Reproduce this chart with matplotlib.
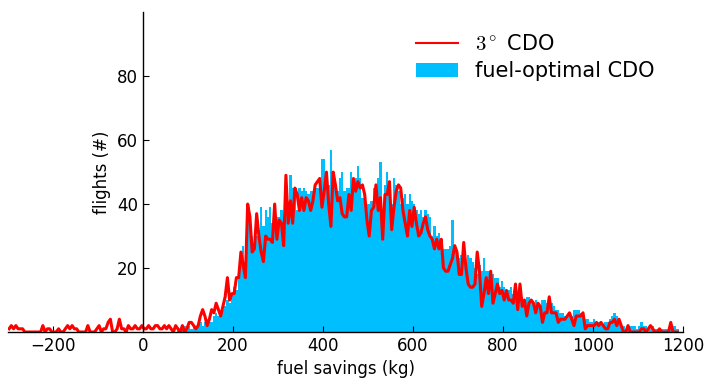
import numpy as np
import matplotlib
matplotlib.use("Agg")
import matplotlib.pyplot as plt

# histogram bins (5 kg wide), -300 ... 1190
bin_edges = np.arange(-300, 1195, 5)

# 3 deg CDO, counts per bin
cdo3 = [
    1, 2, 1, 2, 1, 1, 1, 0, 0, 0, 0, 0, 0, 0, 0, 2, 0, 1, 1, 0,            # -300
    0, 0, 1, 0, 0, 1, 2, 1, 2, 1, 1, 0, 0, 0, 0, 2, 0, 0, 0, 1,            # -200
    2, 0, 1, 1, 3, 4, 0, 0, 1, 4, 1, 1, 0, 2, 1, 1, 2, 1, 1, 2,            # -100
    1, 1, 2, 1, 1, 2, 2, 1, 1, 2, 1, 2, 1, 0, 2, 1, 0, 2, 0, 1,            # 0
    3, 3, 2, 1, 2, 5, 7, 5, 2, 4, 7, 6, 9, 7, 5, 8, 11, 17, 10, 12,        # 100
    12, 17, 17, 25, 21, 17, 40, 36, 25, 26, 37, 30, 25, 22, 30, 29, 29, 28, 40, 29,  # 200
    35, 34, 27, 49, 34, 41, 34, 45, 43, 38, 42, 38, 42, 41, 38, 41, 46, 47, 48, 39,  # 300
    44, 50, 40, 33, 50, 46, 41, 42, 37, 36, 36, 43, 38, 48, 44, 47, 45, 46, 43, 35,  # 400
    30, 38, 39, 46, 38, 42, 29, 43, 43, 47, 32, 39, 44, 46, 45, 38, 34, 30, 38, 33,  # 500
    39, 34, 30, 31, 34, 36, 32, 30, 29, 26, 29, 26, 29, 20, 19, 19, 21, 23, 27, 25,  # 600
    18, 18, 28, 20, 15, 14, 14, 15, 25, 19, 8, 12, 17, 12, 19, 9, 12, 15, 12, 13,    # 700
    10, 13, 10, 10, 9, 15, 7, 15, 8, 10, 5, 9, 10, 9, 6, 9, 8, 3, 6, 6,              # 800
    11, 6, 6, 6, 3, 4, 4, 4, 5, 6, 4, 2, 5, 5, 5, 6, 1, 2, 2, 2,                     # 900
    2, 3, 2, 3, 2, 1, 1, 3, 3, 4, 2, 4, 2, 0, 0, 2, 0, 0, 0, 0,                      # 1000
    0, 1, 1, 0, 1, 2, 1, 0, 0, 1, 0, 0, 0, 0, 3, 0, 0, 0,                            # 1100
]

# fuel-optimal CDO, counts per bin
fuel_opt = [0] * 60 + [
    0, 0, 0, 0, 0, 0, 0, 0, 0, 0, 0, 0, 0, 0, 0, 1, 1, 1, 2, 1,            # 0
    2, 1, 2, 2, 2, 3, 2, 3, 4, 3, 3, 5, 6, 5, 6, 7, 8, 10, 9, 12,          # 100
    14, 13, 17, 22, 27, 22, 35, 33, 30, 26, 30, 32, 39, 33, 38, 36, 39, 34, 36, 36,  # 200
    36, 38, 30, 41, 40, 49, 45, 44, 38, 45, 44, 45, 44, 43, 44, 44, 46, 45, 47, 54,  # 300
    54, 47, 46, 57, 44, 46, 44, 48, 50, 44, 45, 45, 50, 44, 48, 52, 48, 42, 42, 40,  # 400
    40, 41, 45, 42, 48, 53, 38, 46, 50, 44, 40, 48, 46, 44, 40, 42, 43, 40, 43, 41,  # 500
    40, 38, 37, 38, 36, 38, 37, 36, 30, 33, 30, 31, 28, 26, 26, 26, 27, 35, 27, 23,  # 600
    23, 24, 23, 22, 24, 23, 22, 20, 18, 21, 19, 23, 19, 19, 18, 18, 17, 17, 14, 16,  # 700
    14, 13, 13, 14, 12, 14, 12, 13, 11, 10, 11, 11, 10, 9, 10, 9, 8, 10, 10, 9,      # 800
    8, 9, 8, 7, 7, 6, 6, 5, 5, 6, 5, 7, 7, 7, 6, 5, 4, 4, 3, 3,                      # 900
    4, 3, 3, 3, 2, 3, 3, 4, 5, 6, 5, 3, 2, 2, 1, 1, 2, 2, 2, 1,                      # 1000
    2, 3, 2, 2, 1, 1, 2, 1, 1, 1, 1, 1, 1, 1, 1, 2, 2, 1,                            # 1100
]

x_ticks = [-200, 0, 200, 400, 600, 800, 1000, 1200]
y_ticks = [20, 40, 60, 80]

plt.rcParams['mathtext.fontset'] = 'cm'
plt.rcParams['font.family'] = 'DejaVu Sans'

fig = plt.figure(figsize=(7.05, 3.79), dpi=100)
ax = fig.add_axes([0.0113, 0.124, 0.9577, 0.844])

centers = bin_edges[:-1] + 2.5
ax.bar(bin_edges[:-1], fuel_opt, width=5, align='edge', color='#00BFFF',
       linewidth=0, label='fuel-optimal CDO')
ax.plot(centers, cdo3, color='red', linewidth=2.2, label=r'$3^\circ$ CDO')

ax.set_xlim(-300, 1200)
ax.set_ylim(0, 100)
ax.set_xticks(x_ticks)
ax.set_yticks(y_ticks)

ax.spines['left'].set_position(('data', 0))
ax.spines['top'].set_visible(False)
ax.spines['right'].set_visible(False)
for s in ('left', 'bottom'):
    ax.spines[s].set_linewidth(1.0)
    ax.spines[s].set_zorder(3)
ax.tick_params(direction='in', length=4, labelsize=12, top=False, right=False)

ax.set_xlabel('fuel savings (kg)', fontsize=12)
ax.set_ylabel('flights (#)', fontsize=12)

leg = ax.legend(loc='upper right', bbox_to_anchor=(0.985, 0.99), frameon=False,
                fontsize=15, handlelength=2.0, handletextpad=0.8,
                labelspacing=0.35)
leg.get_lines()[0].set_linewidth(1.5)

fig.savefig('out.png', dpi=100)
